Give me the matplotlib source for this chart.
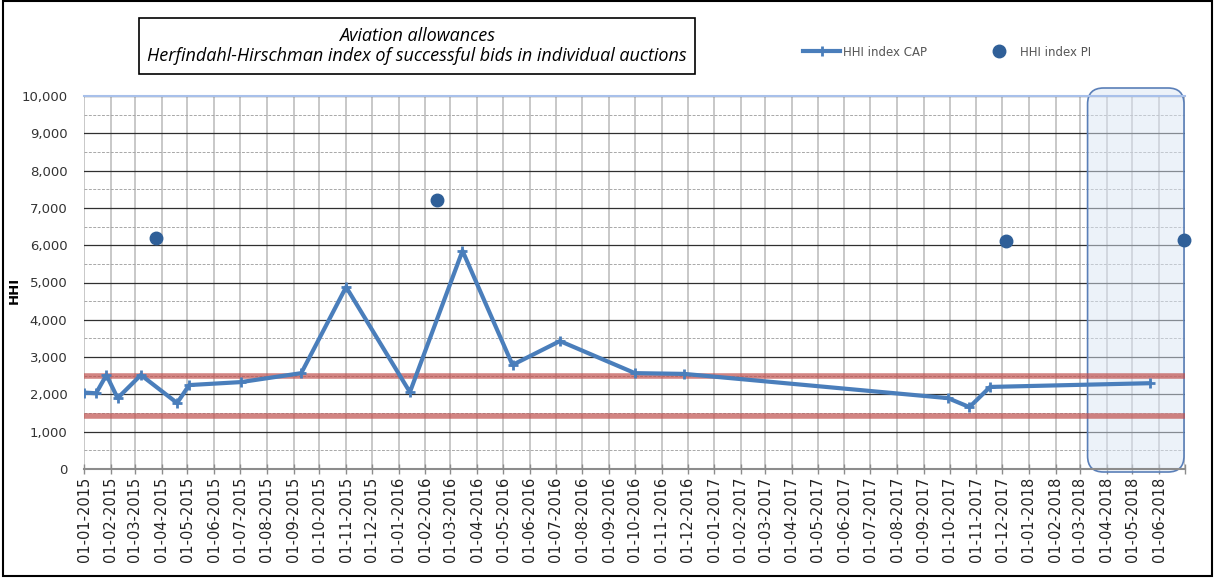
import matplotlib
matplotlib.use("Agg")
import matplotlib.pyplot as plt
import matplotlib.dates as mdates
from matplotlib.patches import FancyBboxPatch, Rectangle
from matplotlib.ticker import FuncFormatter, MultipleLocator
from matplotlib.transforms import IdentityTransform
import pandas as pd

# data
cap_dates = ["2015-01-01", "2015-01-15", "2015-01-27", "2015-02-09", "2015-03-08",
             "2015-04-19", "2015-05-03", "2015-07-02", "2015-09-10", "2015-11-01",
             "2016-01-14", "2016-03-15", "2016-05-12", "2016-07-06", "2016-10-01",
             "2016-11-27", "2017-09-29", "2017-10-24", "2017-11-17", "2018-05-21"]
cap_values = [2050, 2030, 2520, 1900, 2520, 1770, 2250, 2330, 2570, 4880,
              2060, 5850, 2790, 3430, 2570, 2550, 1900, 1660, 2200, 2300]

pi_dates = ["2015-03-25", "2016-02-15", "2017-12-05", "2018-06-30"]
pi_values = [6200, 7200, 6100, 6130]

upper_level = 2500
lower_level = 1430
shade_start = "2018-03-10"

cap_dates = pd.to_datetime(cap_dates)
pi_dates = pd.to_datetime(pi_dates)

W, H = 1215, 578
fig = plt.figure(figsize=(W / 100, H / 100), dpi=100)
ax = fig.add_axes([84 / W, 1 - 469 / H, (1185 - 84) / W, (469 - 96) / H])

x0 = pd.Timestamp("2015-01-01")
x1 = pd.Timestamp("2018-07-01")
ax.set_xlim(x0, x1)
ax.set_ylim(0, 10000)

# grid
ax.yaxis.set_major_locator(MultipleLocator(1000))
ax.yaxis.set_minor_locator(MultipleLocator(500))
ax.xaxis.set_major_locator(mdates.MonthLocator())
ax.xaxis.set_major_formatter(FuncFormatter(
    lambda v, p: "" if mdates.num2date(v).date() >= x1.date()
    else mdates.num2date(v).strftime("%d-%m-%Y")))
ax.grid(axis="x", which="major", color="#c4c4c4", lw=1.3)
ax.grid(axis="y", which="major", color="#303030", lw=0.9)
ax.grid(axis="y", which="minor", color="#a8a8a8", lw=0.7, ls=(0, (3, 1.5)))
ax.set_axisbelow(True)

for s in ["left", "right"]:
    ax.spines[s].set_visible(False)
ax.spines["top"].set_color("#a8c0ea")
ax.spines["top"].set_linewidth(1.5)
ax.spines["bottom"].set_color("#8c8c8c")
ax.spines["bottom"].set_linewidth(1.5)

ax.yaxis.set_major_formatter(FuncFormatter(lambda v, p: f"{int(v):,}"))
ax.tick_params(axis="y", which="both", length=0, labelsize=9.5, colors="#333333", pad=12)
ax.tick_params(axis="x", length=7, direction="inout", color="#8c8c8c", width=1,
               labelsize=10.5, labelcolor="#222222", rotation=90, pad=2)
ax.set_ylabel("HHI", fontsize=9.5, fontweight="bold")
ax.yaxis.set_label_coords(-0.057, 0.48)

# shaded box on the right
ax.figure.canvas.draw()
bx0 = ax.transData.transform((mdates.date2num(pd.Timestamp(shade_start)), 0))[0]
box = FancyBboxPatch((bx0, H - 472), 1184 - bx0, 472 - 88,
                     boxstyle="round,pad=0,rounding_size=16",
                     transform=IdentityTransform(), facecolor=(0.86, 0.90, 0.96, 0.5),
                     edgecolor="#5a7fb8", lw=1.2, zorder=1.5, clip_on=False)
ax.add_artist(box)

# threshold lines
ax.axhline(upper_level, color="#c0504d", alpha=0.7, lw=4, zorder=3)
ax.axhline(lower_level, color="#c0504d", alpha=0.7, lw=4, zorder=3)

ax.plot(cap_dates, cap_values, color="#4a7ebb", lw=3, marker="+", ms=7, mew=2,
        label="HHI index CAP", zorder=4)
ax.plot(pi_dates, pi_values, ls="none", marker="o", ms=9, color="#2f5f98",
        label="HHI index PI", zorder=5, clip_on=False)

leg = fig.legend(loc="center left", bbox_to_anchor=(792 / W, 1 - 52 / H), ncol=2,
                 frameon=False, fontsize=8.5, columnspacing=4.5, handlelength=3.2,
                 handletextpad=0.2, labelcolor="#555555")

# title box
fig.text(417 / W, 1 - 46 / H,
         "Aviation allowances\nHerfindahl-Hirschman index of successful bids in individual auctions",
         ha="center", va="center", fontsize=13, style="italic", family="Open Sans",
         linespacing=1.2,
         bbox=dict(boxstyle="square,pad=0.45", facecolor="white", edgecolor="black", lw=1.2))

# outer frame
fig.add_artist(Rectangle((3 / W, 2 / H), 1 - 6 / W, 1 - 3 / H, transform=fig.transFigure,
                         fill=False, edgecolor="black", lw=1.5))

fig.savefig("out.png", dpi=100)
